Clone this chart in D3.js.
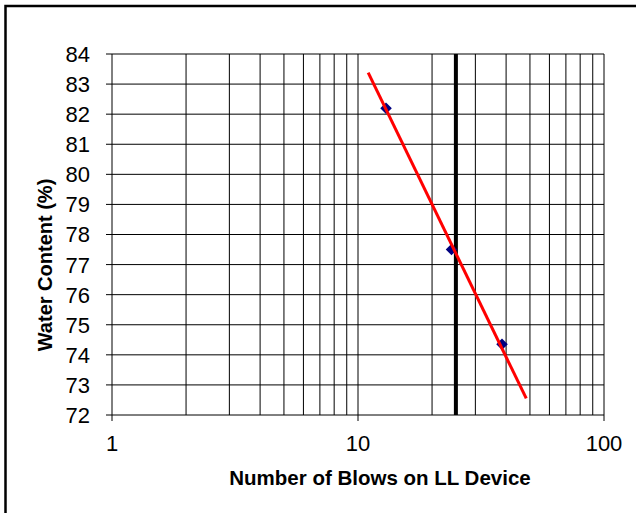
<!DOCTYPE html>
<html>
<head>
<meta charset="utf-8">
<script src="https://cdn.jsdelivr.net/npm/d3@7"></script>
<style>
  body { margin: 0; background: #fff; }
  text { font-family: "Liberation Sans", Arial, sans-serif; fill: #000; }
  .axis-title { font-weight: bold; }
</style>
</head>
<body>
<svg id="chart" width="639" height="513"></svg>
<script>
// data
const blows = [13, 24, 38.5];
const water = [82.2, 77.5, 74.35];
const trendBlows = [11, 48.3];
const trendWater = [83.38, 72.55];
const targetBlows = 25;
const yTicks = [72, 73, 74, 75, 76, 77, 78, 79, 80, 81, 82, 83, 84];
const xTicks = [1, 10, 100];
const xGrid = [2, 3, 4, 5, 6, 7, 8, 9, 10, 20, 30, 40, 50, 60, 70, 80, 90, 100];

const svg = d3.select("#chart");
const margin = {top: 54, right: 35, bottom: 98, left: 112};
const width = +svg.attr("width");
const height = +svg.attr("height");
const innerW = width - margin.left - margin.right;
const innerH = height - margin.top - margin.bottom;

// outer chart border (clipped at right/bottom)
svg.append("path")
  .attr("d", "M5.5,513V6H636")
  .attr("fill", "none")
  .attr("stroke", "#000")
  .attr("stroke-width", 2.5);

const g = svg.append("g").attr("transform", `translate(${margin.left},${margin.top})`);

const x = d3.scaleLog().domain([1, 100]).range([0, innerW]);
const y = d3.scaleLinear().domain([72, 84]).range([innerH, 0]);

// grid
g.selectAll(".hgrid")
  .data(yTicks)
  .join("line")
    .attr("x1", -6).attr("x2", innerW)
    .attr("y1", d => y(d)).attr("y2", d => y(d))
    .attr("stroke", "#000").attr("stroke-width", 1);

g.selectAll(".vgrid")
  .data(xGrid)
  .join("line")
    .attr("x1", d => x(d)).attr("x2", d => x(d))
    .attr("y1", 0).attr("y2", innerH)
    .attr("stroke", "#000").attr("stroke-width", 1);

// axes lines
g.append("line")
  .attr("x1", 0).attr("x2", 0).attr("y1", 0).attr("y2", innerH)
  .attr("stroke", "#000");

g.selectAll(".xtick")
  .data(xTicks)
  .join("line")
    .attr("x1", d => x(d)).attr("x2", d => x(d))
    .attr("y1", innerH).attr("y2", innerH + 6)
    .attr("stroke", "#000");

// tick labels
g.selectAll(".ylab")
  .data(yTicks)
  .join("text")
    .attr("x", -22)
    .attr("y", d => y(d))
    .attr("dy", "0.36em")
    .attr("text-anchor", "end")
    .attr("font-size", 22)
    .text(d => d);

g.selectAll(".xlab")
  .data(xTicks)
  .join("text")
    .attr("x", d => x(d))
    .attr("y", innerH + 36)
    .attr("text-anchor", "middle")
    .attr("font-size", 22)
    .text(d => d);

// vertical line at 25 blows
g.append("line")
  .attr("x1", x(targetBlows)).attr("x2", x(targetBlows))
  .attr("y1", 0).attr("y2", innerH)
  .attr("stroke", "#000").attr("stroke-width", 4);

// points
g.selectAll(".pt")
  .data(blows.map((b, i) => [b, water[i]]))
  .join("path")
    .attr("d", d3.symbol(d3.symbolDiamond2, 85))
    .attr("transform", d => `translate(${x(d[0])},${y(d[1])})`)
    .attr("fill", "#000080");

// trend line (drawn over the points)
g.append("line")
  .attr("x1", x(trendBlows[0])).attr("y1", y(trendWater[0]))
  .attr("x2", x(trendBlows[1])).attr("y2", y(trendWater[1]))
  .attr("stroke", "#ff0000").attr("stroke-width", 3);

// axis titles
g.append("text")
  .attr("class", "axis-title")
  .attr("x", 268)
  .attr("y", innerH + 70)
  .attr("text-anchor", "middle")
  .attr("font-size", 20.5)
  .text("Number of Blows on LL Device");

g.append("text")
  .attr("class", "axis-title")
  .attr("transform", "rotate(-90)")
  .attr("x", -211)
  .attr("y", -60)
  .attr("text-anchor", "middle")
  .attr("font-size", 20)
  .text("Water Content (%)");
</script>
</body>
</html>
